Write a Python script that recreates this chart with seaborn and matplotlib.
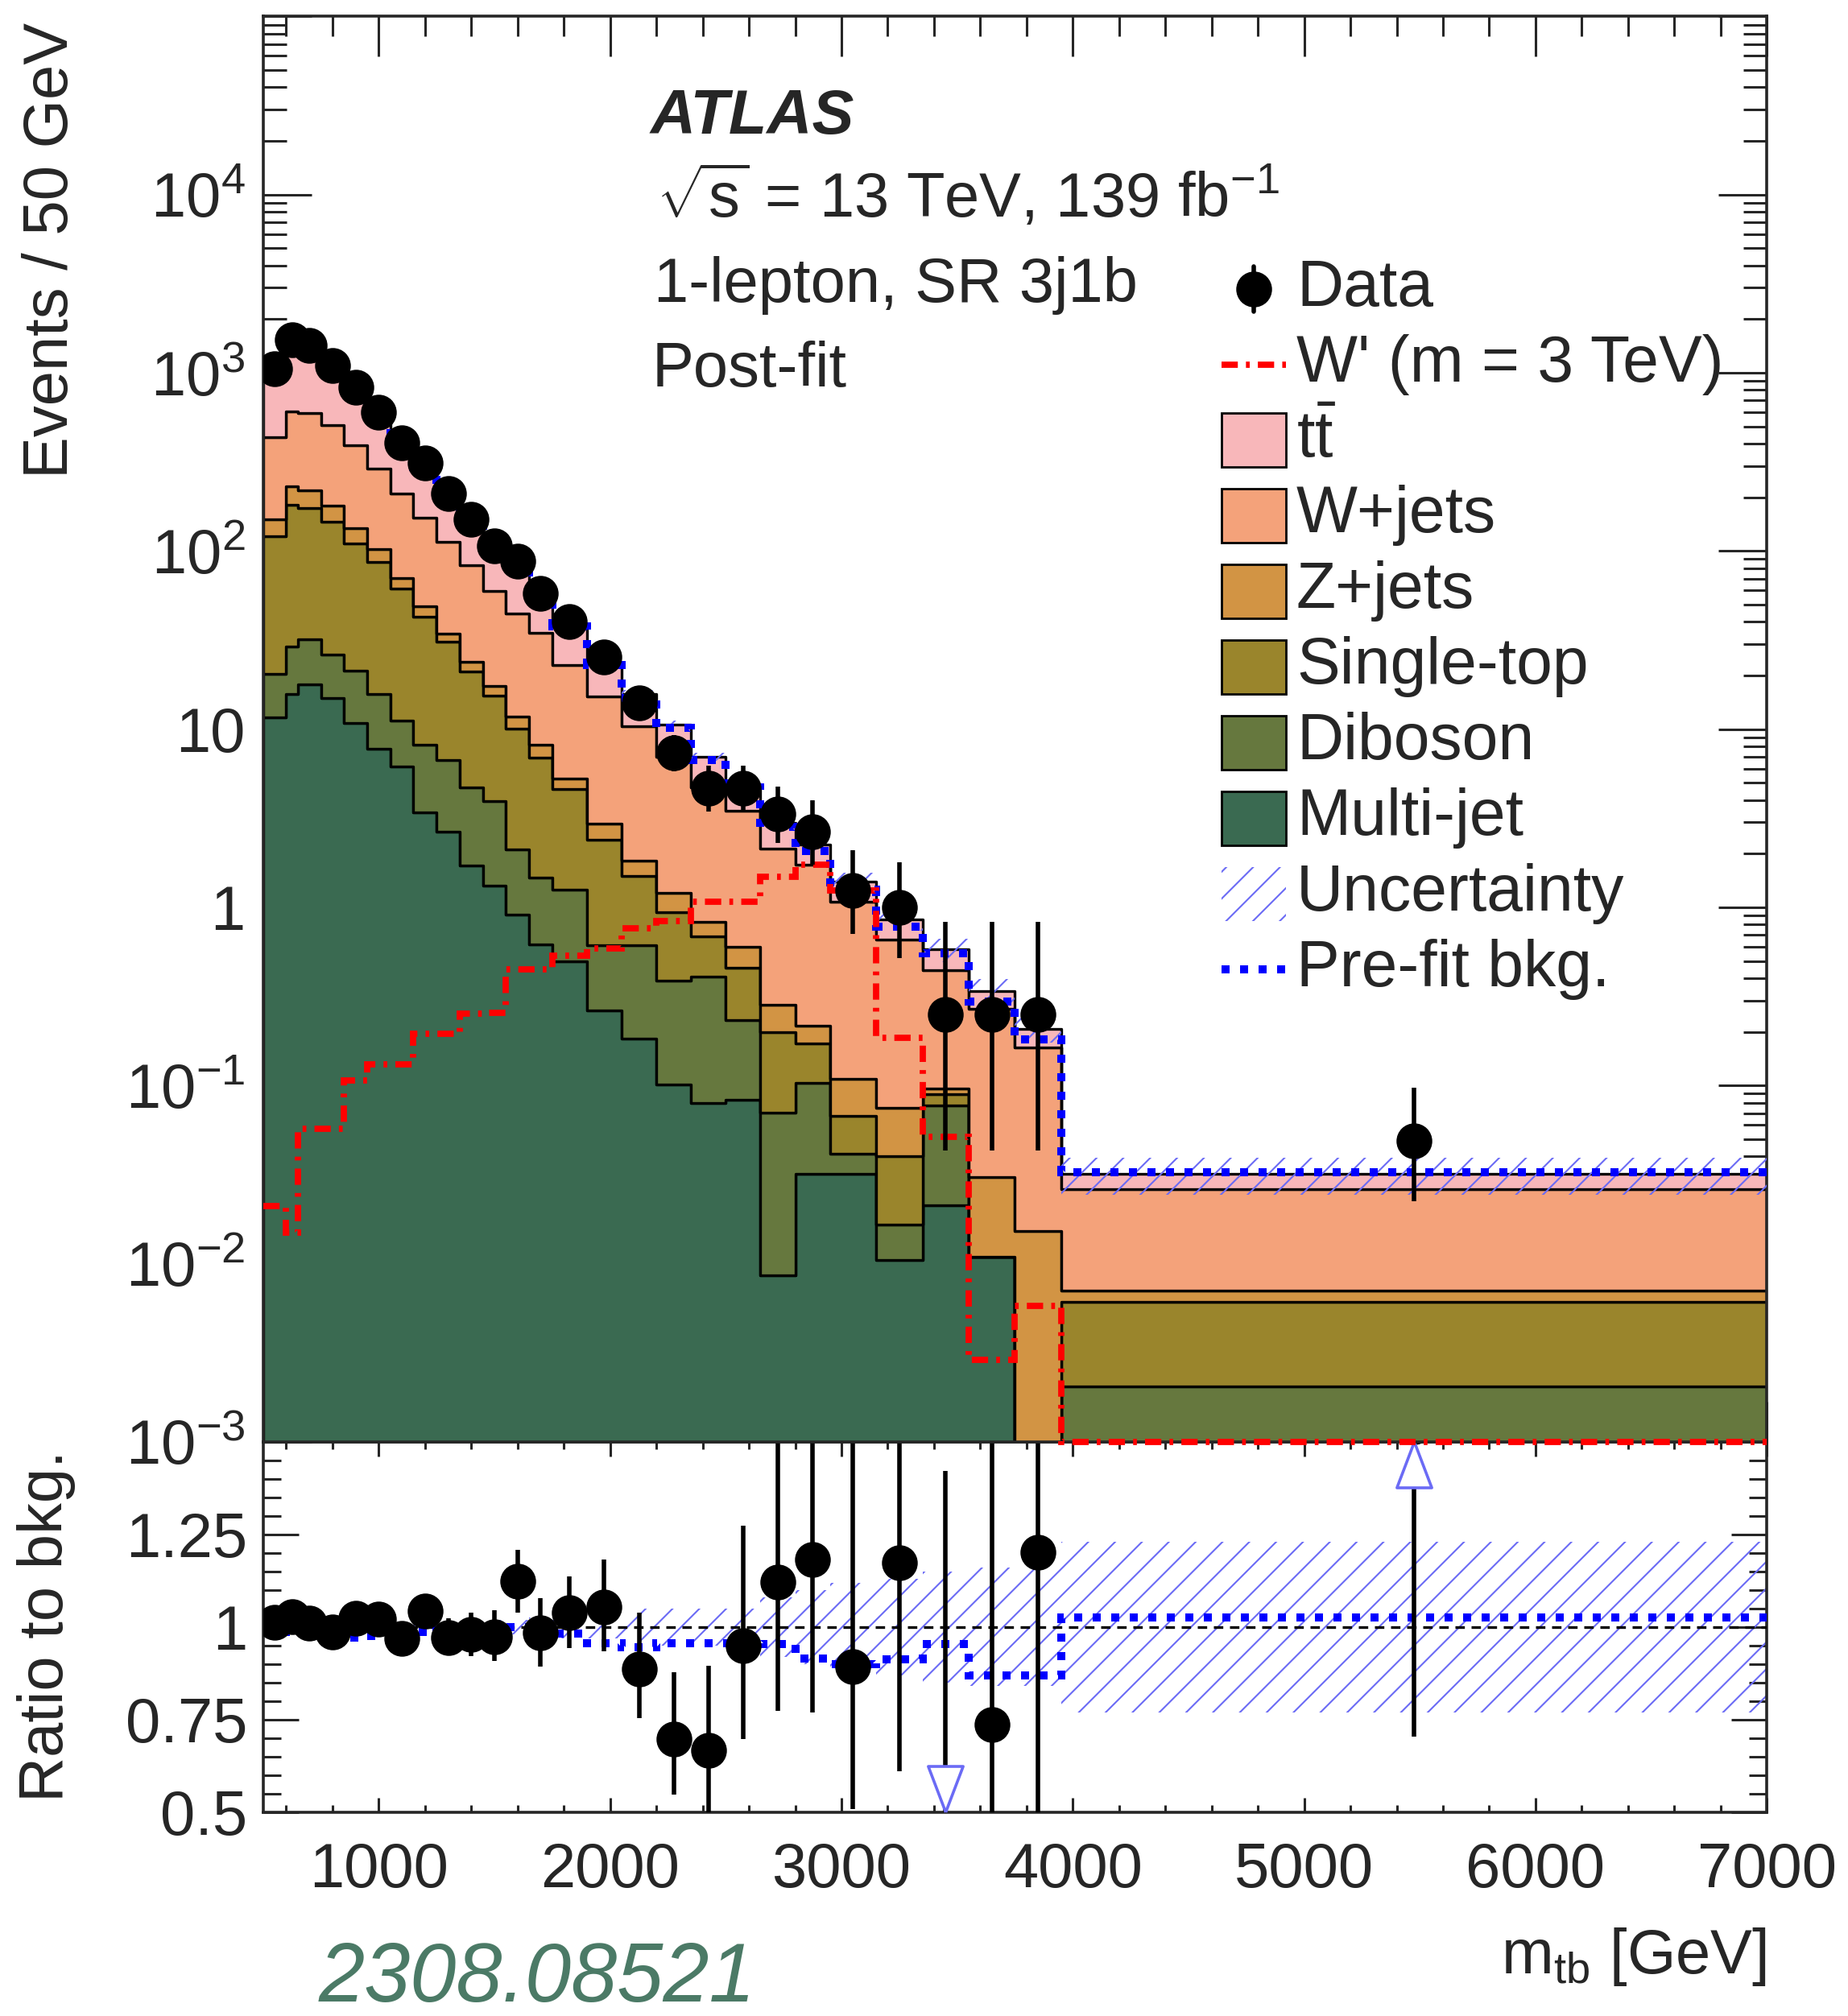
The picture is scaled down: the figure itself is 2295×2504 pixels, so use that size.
import numpy as np
import pandas as pd
import matplotlib
matplotlib.use("Agg")
import matplotlib.pyplot as plt
from matplotlib.patches import Rectangle
from matplotlib.lines import Line2D
from matplotlib.transforms import blended_transform_factory, ScaledTranslation
from matplotlib.ticker import (FixedLocator, MultipleLocator, FuncFormatter,
                               LogLocator, NullFormatter, FixedFormatter)
import seaborn as sns

# ---------------------------------------------------------------- binning
bin_edges = [500, 600, 650, 750, 850, 950, 1050, 1150, 1250, 1350, 1450, 1550,
             1650, 1750, 1900, 2050, 2200, 2350, 2500, 2650, 2800, 2950, 3150,
             3350, 3550, 3750, 3950, 7000]

# ------------------------------------------------ post-fit backgrounds (Events / 50 GeV)
ttbar = [610, 885, 821, 599, 415, 296, 208, 146, 103, 69.7, 50.3, 33.7, 24.3,
         15.5, 8.7, 5.4, 3.6, 2.3, 1.43, 0.84, 0.53, 0.325, 0.193, 0.135, 0.071,
         0.045, 0.0056]
wjets = [284, 376, 378, 330, 260, 188, 140.6, 103.8, 78.5, 59.4, 42.3, 32.9,
         26.44, 17.7, 12.35, 8.58, 5.79, 3.87, 2.89, 1.845, 1.513, 0.9665, 0.585,
         0.3485, 0.238, 0.148, 0.0191]
zjets = [30.5, 50, 45, 33, 24, 15.7, 8.6, 6.5, 3.5, 2.8, 2.0, 1.7, 1.26, 0.67,
         0.56, 0.32, 0.27, 0.144, 0.146, 0.085, 0.045, 0.0409, 0.0349, 0.007,
         0.0198, 0.0152, 0.001]
single_top = [100.1, 152, 142.1, 119.9, 88.8, 70.55, 50.65, 34.55, 24.3, 16.4,
              11.45, 7.99, 5.43, 3.37, 1.78, 0.89, 0.554, 0.274, 0.225, 0.1295,
              0.0685, 0.0263, 0.0235, 0.0122, 0.0, 0.0, 0.00406]
diboson = [8.8, 13.2, 14.0, 11.1, 10.4, 8.0, 4.95, 4.73, 4.04, 2.99, 2.63,
           1.195, 0.85, 0.76, 0.347, 0.427, 0.285, 0.33, 0.149, 0.0619, 0.0715,
           0.0093, 0.006, 0.056, 0.0, 0.0, 0.00204]
multijet = [11.6, 15.8, 17.9, 15.0, 10.8, 7.75, 6.2, 3.42, 2.66, 1.71, 1.32,
            0.915, 0.62, 0.50, 0.263, 0.183, 0.101, 0.080, 0.083, 0.0086, 0.032,
            0.032, 0.0105, 0.0213, 0.0109, 0.0, 0.0]

# relative post-fit uncertainty on the total background
bkg_unc = [0.012, 0.012, 0.012, 0.012, 0.012, 0.012, 0.012, 0.012, 0.015, 0.015,
           0.02, 0.02, 0.025, 0.03, 0.03, 0.05, 0.05, 0.05, 0.05, 0.08, 0.10,
           0.12, 0.13, 0.15, 0.16, 0.16, 0.23]

# pre-fit background relative to the post-fit one
prefit_ratio = [0.987, 0.987, 0.985, 0.975, 0.972, 0.975, 0.98, 0.987, 0.99,
                0.99, 0.995, 1.0, 1.0, 0.983, 0.957, 0.945, 0.955, 0.955, 0.955,
                0.953, 0.914, 0.90, 0.912, 0.953, 0.87, 0.868, 1.025]

# W' signal, m = 3 TeV
wprime = [0.021, 0.0149, 0.057, 0.057, 0.107, 0.131, 0.131, 0.196, 0.196, 0.253,
          0.255, 0.447, 0.447, 0.535, 0.585, 0.764, 0.836, 1.08, 1.07, 1.48,
          1.74, 1.25, 0.186, 0.0516, 0.0029, 0.0058, 0.001]

# data with 68% CL Poisson intervals
data = [1059, 1535, 1432, 1094, 828, 598, 406, 312, 210, 150, 107, 88, 58, 40,
        25.3, 14.0, 7.4, 4.67, 4.67, 3.33, 2.67, 1.25, 1.0, 0.25, 0.25, 0.25, 0.049]
data_lo = [1036, 1496, 1405, 1071, 808, 581, 392, 300, 200, 141, 100, 81.4,
           52.6, 36.3, 22.4, 11.9, 5.8, 3.43, 3.43, 2.30, 1.74, 0.71, 0.52,
           0.043, 0.043, 0.043, 0.0224]
data_hi = [1082, 1575, 1459, 1118, 849, 616, 421, 325, 221, 159, 115, 94.7,
           63.5, 43.8, 28.4, 16.4, 9.3, 6.27, 6.27, 4.76, 3.98, 2.10, 1.79,
           0.825, 0.825, 0.825, 0.097]

process_names = [r"$\mathrm{t}\bar{\mathrm{t}}$", "W+jets", "Z+jets",
                 "Single-top", "Diboson", "Multi-jet"]
process_values = [ttbar, wjets, zjets, single_top, diboson, multijet]
process_colors = ["#f8b7ba", "#f4a27a", "#d29444", "#9a852c", "#66783e", "#3a6a51"]

HATCH_COLOR = "#6b6bf5"
HATCH = "//"

# ---------------------------------------------------------------- style
sns.set_style("ticks")
plt.rcParams["font.family"] = ["Liberation Sans", "DejaVu Sans"]
plt.rcParams["mathtext.fontset"] = "custom"
plt.rcParams["mathtext.rm"] = "Liberation Sans"
plt.rcParams["mathtext.it"] = "Liberation Sans:italic"
plt.rcParams["mathtext.bf"] = "Liberation Sans:bold"
plt.rcParams["hatch.color"] = HATCH_COLOR
plt.rcParams["hatch.linewidth"] = 0.75
plt.rcParams["axes.linewidth"] = 1.3

FS = 28
DPI = 200
W_PX, H_PX = 2295, 2504


def fx(px):
    return px / W_PX


def fy(py):
    return 1 - py / H_PX


fig = plt.figure(figsize=(W_PX / DPI, H_PX / DPI), dpi=DPI)
ax_left, ax_right = 326.7, 2194.2
main_top, main_bot, ratio_bot = 20.4, 1790.9, 2250.7
ax = fig.add_axes([fx(ax_left), fy(main_bot), (ax_right - ax_left) / W_PX,
                   (main_bot - main_top) / H_PX])
axr = fig.add_axes([fx(ax_left), fy(ratio_bot), (ax_right - ax_left) / W_PX,
                    (ratio_bot - main_bot) / H_PX], sharex=ax)
axr.set_facecolor("none")
ax.set_zorder(2)

edges = np.asarray(bin_edges, dtype=float)
centers = 0.5 * (edges[:-1] + edges[1:])
total = np.sum([np.asarray(v, dtype=float) for v in process_values], axis=0)
unc = np.asarray(bkg_unc)
dat = np.asarray(data)
dlo = np.asarray(data_lo)
dhi = np.asarray(data_hi)

# ---------------------------------------------------------------- stacked backgrounds
frames = [pd.DataFrame({"m": centers, "events": vals, "process": name})
          for name, vals in zip(process_names, process_values)]
df = pd.concat(frames, ignore_index=True)
sns.histplot(data=df, x="m", weights="events", hue="process",
             hue_order=process_names, multiple="stack", bins=list(bin_edges),
             element="step", fill=True, alpha=1,
             palette=dict(zip(process_names, process_colors)),
             edgecolor="black", linewidth=1.2, legend=False, ax=ax, zorder=2)
ax.set_yscale("log")

# uncertainty band
ax.stairs(total * (1 + unc), edges, baseline=total * (1 - unc), fill=True,
          facecolor="none", edgecolor=HATCH_COLOR, hatch=HATCH, linewidth=0,
          zorder=3)
# pre-fit background
ax.stairs(total * np.asarray(prefit_ratio), edges, baseline=None, color="blue",
          linewidth=3.6, linestyle=(0, (1, 1.3)), zorder=4)
# signal
ax.stairs(wprime, edges, baseline=None, color="red", linewidth=2.8,
          linestyle=(0, (2.6, 1.3, 0.6, 1.3)), zorder=5, clip_on=False)
# data
ax.errorbar(centers, dat, yerr=[dat - dlo, dhi - dat], fmt="o", color="black",
            markersize=15, elinewidth=2.0, capsize=0, zorder=6)

ax.set_xlim(edges[0], 7000)
ax.set_ylim(1e-3, 1e5)
ax.set_xlabel("")
ax.set_ylabel("")


def log_label(v, pos):
    e = int(round(np.log10(v)))
    if e >= 5:
        return ""
    if e == 0:
        return "1"
    if e == 1:
        return "10"
    return r"$10^{%d}$" % e


ax.yaxis.set_major_locator(LogLocator(base=10, numticks=20))
ax.yaxis.set_minor_locator(LogLocator(base=10, subs=np.arange(2, 10), numticks=20))
ax.yaxis.set_major_formatter(FuncFormatter(log_label))
ax.yaxis.set_minor_formatter(NullFormatter())
ax.xaxis.set_major_locator(MultipleLocator(1000))
ax.xaxis.set_minor_locator(MultipleLocator(200))
ax.tick_params(which="both", direction="in", top=True, right=True,
               labelbottom=False, width=1.1, labelsize=FS)
ax.tick_params(axis="y", which="major", length=21.6, pad=8)
ax.tick_params(axis="y", which="minor", length=10.4)
ax.tick_params(axis="x", which="major", length=18)
ax.tick_params(axis="x", which="minor", length=9)

# ---------------------------------------------------------------- ratio panel
ratio = dat / total
axr.stairs(1 + unc, edges, baseline=1 - unc, fill=True, facecolor="none",
           edgecolor=HATCH_COLOR, hatch=HATCH, linewidth=0, zorder=2)
axr.axhline(1.0, color="black", linewidth=1.2, linestyle=(0, (3.5, 2.5)), zorder=3)
axr.stairs(prefit_ratio, edges, baseline=None, color="blue", linewidth=3.6,
           linestyle=(0, (1, 1.3)), zorder=4)
axr.errorbar(centers, ratio, yerr=[(dat - dlo) / total, (dhi - dat) / total],
             fmt="o", color="black", markersize=15, elinewidth=2.0, capsize=0,
             zorder=5)
axr.set_ylim(0.5, 1.5)

# out-of-range markers (open triangles with the tip on the frame)
tri_size = 20.5           # points, full height of the triangle
tri_h = tri_size / 2 / 72  # inches, half height
low = ratio < 0.5
high = ratio > 1.5
blend = blended_transform_factory(axr.transData, axr.transAxes)
tri_down = [(0, -1), (-0.76, 1), (0.76, 1), (0, -1)]
tri_up = [(0, 1), (-0.76, -1), (0.76, -1), (0, 1)]
if low.any():
    axr.plot(centers[low], np.zeros(low.sum()), linestyle="none",
             marker=tri_down, markersize=tri_size, markerfacecolor="white",
             markeredgecolor=HATCH_COLOR, markeredgewidth=1.3, zorder=6,
             clip_on=False,
             transform=blend + ScaledTranslation(0, tri_h, fig.dpi_scale_trans))
if high.any():
    axr.plot(centers[high], np.ones(high.sum()), linestyle="none",
             marker=tri_up, markersize=tri_size, markerfacecolor="white",
             markeredgecolor=HATCH_COLOR, markeredgewidth=1.3, zorder=6,
             clip_on=False,
             transform=blend + ScaledTranslation(0, -tri_h, fig.dpi_scale_trans))

axr.yaxis.set_major_locator(FixedLocator([0.5, 0.75, 1.0, 1.25]))
axr.yaxis.set_major_formatter(FixedFormatter(["0.5", "0.75", "1", "1.25"]))
axr.yaxis.set_minor_locator(MultipleLocator(0.05))
axr.tick_params(which="both", direction="in", top=True, right=True, width=1.1,
                labelsize=FS)
axr.tick_params(axis="y", which="major", length=16, pad=7)
axr.tick_params(axis="y", which="minor", length=8)
axr.tick_params(axis="x", which="major", length=6.5, pad=13)
axr.tick_params(axis="x", which="minor", length=3.4)
axr.set_xlabel("")
axr.set_ylabel("")

# ---------------------------------------------------------------- axis titles
fig.text(fx(64), fy(28), "Events / 50 GeV", rotation=90, ha="center", va="top",
         fontsize=FS)
fig.text(fx(58), fy(1801), "Ratio to bkg.", rotation=90, ha="center", va="top",
         fontsize=FS)
fig.text(fx(2194), fy(2451), r"m$_{\mathrm{tb}}$ [GeV]", ha="right",
         va="baseline", fontsize=FS)

# ---------------------------------------------------------------- labels
fig.text(fx(808), fy(166), "ATLAS", fontsize=FS, fontweight="bold",
         fontstyle="italic", va="baseline", zorder=10)
fig.text(fx(815), fy(270), r"$\sqrt{\mathrm{s}}$ = 13 TeV, 139 fb$^{\mathrm{-1}}$",
         fontsize=FS, va="baseline", zorder=10)
fig.text(fx(812), fy(375), "1-lepton, SR 3j1b", fontsize=FS, va="baseline",
         zorder=10)
fig.text(fx(810), fy(480), "Post-fit", fontsize=FS, va="baseline", zorder=10)

# ---------------------------------------------------------------- legend
LZ = 10
row0, row_step = 358.8, 93.9
hx0, hx1 = 1517, 1597
text_x = 1610
box_h = 67
entries = ["Data", "W' (m = 3 TeV)"] + process_names + ["Uncertainty", "Pre-fit bkg."]
for i, label in enumerate(entries):
    yc = row0 + i * row_step
    fig.text(fx(text_x), fy(yc + 21), label, fontsize=FS + 1, va="baseline",
             zorder=LZ)
    if label == "Data":
        fig.add_artist(Line2D([fx((hx0 + hx1) / 2)] * 2, [fy(yc - 28), fy(yc + 28)],
                              color="black", linewidth=2.0, zorder=LZ))
        fig.add_artist(Line2D([fx((hx0 + hx1) / 2)], [fy(yc)], marker="o",
                              markersize=15, color="black", zorder=LZ))
    elif label.startswith("W'"):
        fig.add_artist(Line2D([fx(hx0), fx(hx1)], [fy(yc), fy(yc)], color="red",
                              linewidth=2.8, linestyle=(0, (2.6, 1.3, 0.6, 1.3)),
                              zorder=LZ))
    elif label == "Uncertainty":
        fig.add_artist(Rectangle((fx(hx0), fy(yc + box_h / 2)), (hx1 - hx0) / W_PX,
                                 box_h / H_PX, facecolor="none",
                                 edgecolor=HATCH_COLOR, hatch=HATCH, linewidth=0,
                                 zorder=LZ))
    elif label.startswith("Pre-fit"):
        fig.add_artist(Line2D([fx(hx0), fx(hx1)], [fy(yc), fy(yc)], color="blue",
                              linewidth=3.6, linestyle=(0, (1, 1.3)), zorder=LZ))
    else:
        color = process_colors[process_names.index(label)]
        fig.add_artist(Rectangle((fx(hx0), fy(yc + box_h / 2)), (hx1 - hx0) / W_PX,
                                 box_h / H_PX, facecolor=color,
                                 edgecolor="black", linewidth=1.0, zorder=LZ))

fig.text(fx(396), fy(2486), "2308.08521", fontsize=37, fontstyle="italic",
         color="#4b7a66", va="baseline", zorder=LZ)

fig.savefig("out.png", dpi=DPI)
